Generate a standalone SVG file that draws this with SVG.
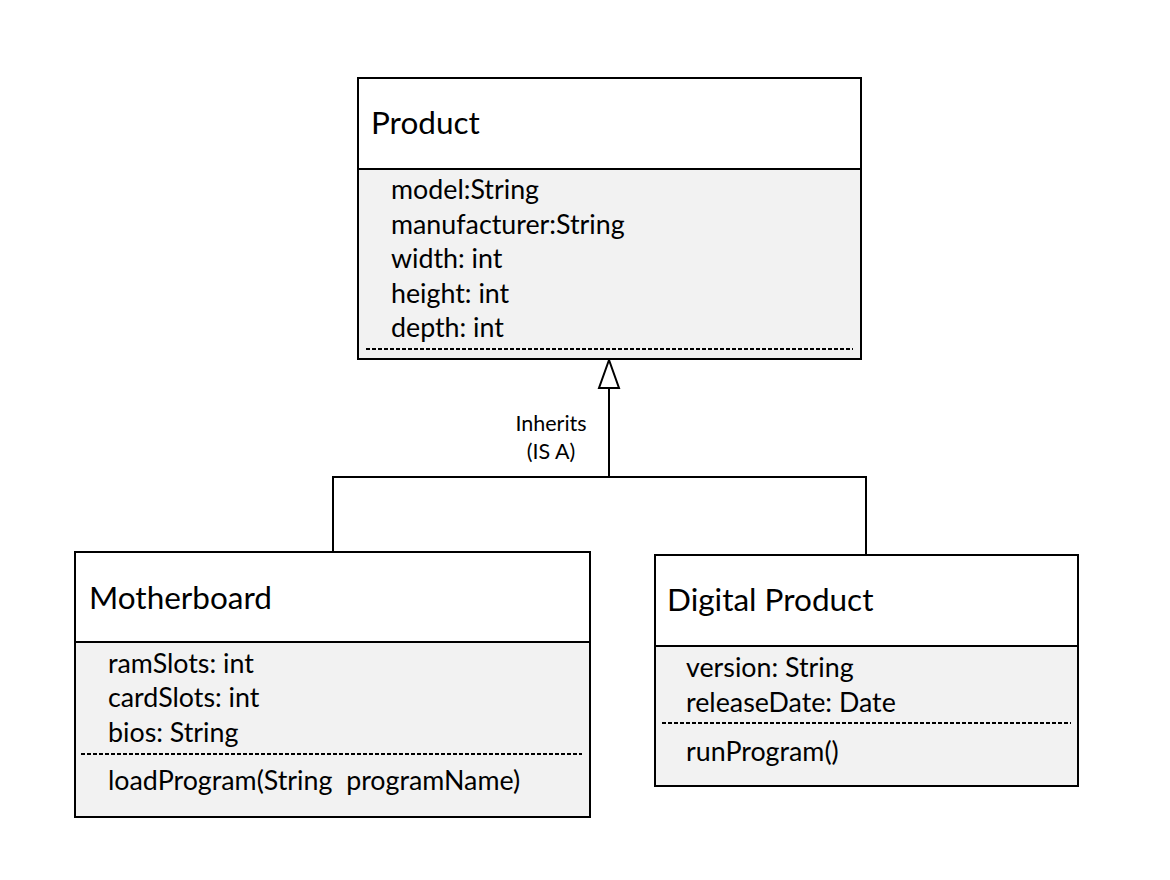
<svg xmlns="http://www.w3.org/2000/svg" width="1170" height="880" viewBox="0 0 1170 880">
<style>
.hdr{fill:#ffffff;stroke:#000;stroke-width:2}
.body{fill:#f2f2f2;stroke:#000;stroke-width:2}
.sep{stroke:#000;stroke-width:1.8;stroke-dasharray:4 2;fill:none}
.title{font-family:Lato,"Open Sans",sans-serif;font-size:31.5px;fill:#000}
.attr{font-family:Lato,"Open Sans",sans-serif;font-size:26.8px;fill:#000}
.lbl{font-family:Lato,"Open Sans",sans-serif;font-size:21.5px;fill:#000;text-anchor:middle}
.conn{stroke:#000;stroke-width:2;fill:none}
</style>
<rect width="1170" height="880" fill="#ffffff"/>
<g id="connectors">
<polyline class="conn" points="333,552 333,477 866,477 866,555"/>
<line class="conn" x1="609" y1="477" x2="609" y2="388"/>
<polygon points="609,360 599,388 619,388" fill="#ffffff" stroke="#000" stroke-width="2"/>
<text class="lbl" x="551" y="431">Inherits</text>
<text class="lbl" x="551" y="459">(IS A)</text>
</g>
<g id="product">
<rect class="hdr" x="358" y="78" width="503" height="91"/>
<rect class="body" x="358" y="169" width="503" height="190"/>
<line class="sep" x1="366" y1="349" x2="853" y2="349"/>
<text class="title" x="371" y="134">Product</text>
<text class="attr" x="391" y="199">model:String</text>
<text class="attr" x="391" y="234">manufacturer:String</text>
<text class="attr" x="391" y="268">width: int</text>
<text class="attr" x="391" y="303">height: int</text>
<text class="attr" x="391" y="337">depth: int</text>
</g>
<g id="motherboard">
<rect class="hdr" x="75" y="552" width="515" height="90"/>
<rect class="body" x="75" y="642" width="515" height="175"/>
<line class="sep" x1="81" y1="754" x2="582" y2="754"/>
<text class="title" x="89" y="609">Motherboard</text>
<text class="attr" x="108" y="673">ramSlots: int</text>
<text class="attr" x="108" y="707">cardSlots: int</text>
<text class="attr" x="108" y="742">bios: String</text>
<text class="attr" x="108" y="790" xml:space="preserve">loadProgram(String  programName)</text>
</g>
<g id="digital-product">
<rect class="hdr" x="655" y="555" width="423" height="91"/>
<rect class="body" x="655" y="646" width="423" height="140"/>
<line class="sep" x1="662" y1="723" x2="1071" y2="723"/>
<text class="title" x="667" y="611">Digital Product</text>
<text class="attr" x="686" y="677">version: String</text>
<text class="attr" x="686" y="712">releaseDate: Date</text>
<text class="attr" x="686" y="761">runProgram()</text>
</g>
</svg>
